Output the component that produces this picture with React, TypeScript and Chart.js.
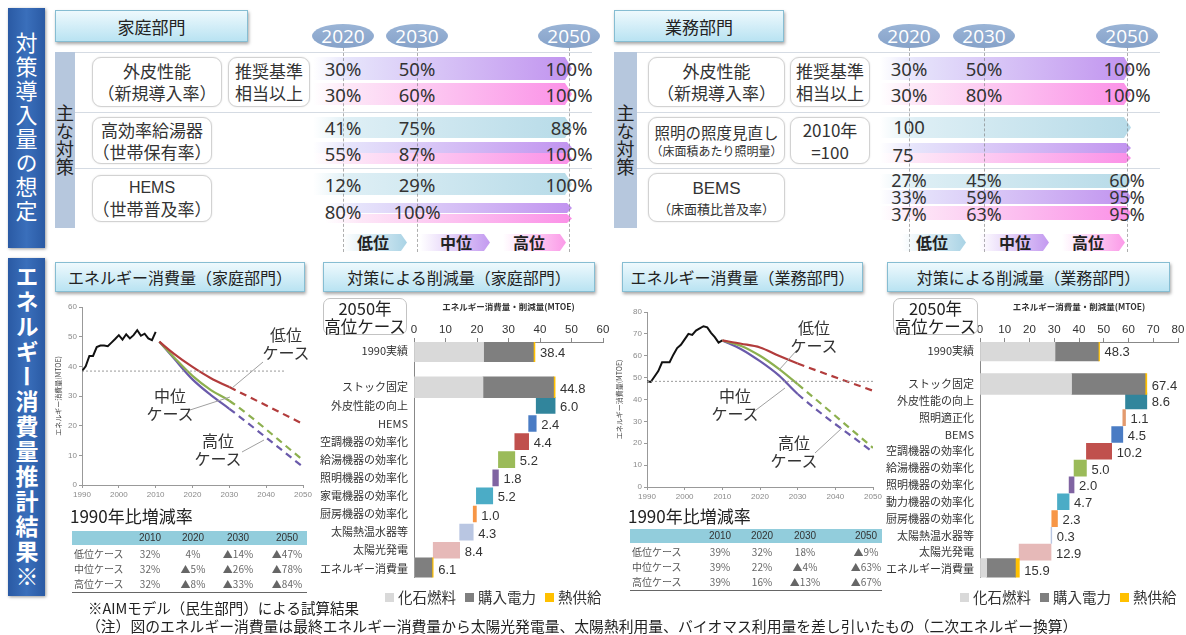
import React, { useEffect, useRef } from 'react';
import { Chart, registerables } from 'chart.js';
Chart.register(...registerables);

const JP = '"Noto Sans CJK JP", "Noto Sans", sans-serif';
const LAT = '"Liberation Sans", Arial, sans-serif';

// ---------------- data: line charts ----------------
const HIST_YEARS = [1990, 1991, 1992, 1993, 1994, 1995, 1996, 1997, 1998, 1999, 2000, 2001, 2002, 2003, 2004, 2005, 2006, 2007, 2008, 2009, 2010];
const HH_HIST = [38.4, 40.0, 43.5, 43.5, 46.5, 47.0, 47.0, 46.8, 48.0, 49.2, 50.5, 49.0, 50.8, 49.4, 50.5, 52.2, 50.3, 51.0, 49.4, 48.8, 51.6];
const HH_PROJ_YEARS = [2011, 2015, 2020, 2025, 2030, 2050];
const HH_LOW = [48.3, 44.2, 39.8, 36.0, 33.0, 20.6];
const HH_MID = [48.3, 43.0, 36.8, 32.0, 28.4, 8.4];
const HH_HIGH = [48.3, 42.6, 35.6, 30.3, 25.7, 6.1];
const HH_BASE = 38.4;

const CM_HIST = [48.3, 48.0, 50.5, 53.0, 57.0, 57.0, 57.0, 60.5, 63.5, 65.0, 67.5, 70.0, 69.5, 71.5, 72.5, 73.5, 73.0, 70.5, 68.5, 66.0, 67.0];
const CM_PROJ_YEARS = [2010, 2015, 2020, 2025, 2030, 2050];
const CM_LOW = [67.0, 65.5, 63.8, 60.0, 56.5, 44.0];
const CM_MID = [67.0, 64.5, 60.0, 54.0, 47.0, 17.9];
const CM_HIGH = [67.0, 63.0, 57.5, 51.0, 42.5, 15.9];
const CM_BASE = 48.3;

// ---------------- data: waterfall charts ----------------
const HH_STACK_CATS = ['1990実績', 'ストック固定', 'エネルギー消費量'];
const HH_FOSSIL = [22.1, 21.9, 0];
const HH_ELEC = [15.8, 22.4, 5.7];
const HH_HEAT = [0.5, 0.5, 0.4];
const HH_CUT_CATS = ['外皮性能の向上', 'HEMS', '空調機器の効率化', '給湯機器の効率化', '照明機器の効率化', '家電機器の効率化', '厨房機器の効率化', '太陽熱温水器等', '太陽光発電'];
const HH_CUTS = [6.0, 2.4, 4.4, 5.2, 1.8, 5.2, 1.0, 4.3, 8.4];

const CM_STACK_CATS = ['1990実績', 'ストック固定', 'エネルギー消費量'];
const CM_FOSSIL = [30.3, 37.0, 2.7];
const CM_ELEC = [17.5, 29.7, 11.6];
const CM_HEAT = [0.5, 0.7, 1.6];
const CM_CUT_CATS = ['外皮性能の向上', '照明適正化', 'BEMS', '空調機器の効率化', '給湯機器の効率化', '照明機器の効率化', '動力機器の効率化', '厨房機器の効率化', '太陽熱温水器等', '太陽光発電'];
const CM_CUTS = [8.6, 1.1, 4.5, 10.2, 5.0, 2.0, 4.7, 2.3, 0.3, 12.9];

// ---------------- data: top tables ----------------
const TOP_YEARS = ['2020', '2030', '2050'];
const HH_SHELL_MID = ['30%', '50%', '100%'];
const HH_SHELL_HIGH = ['30%', '60%', '100%'];
const HH_WATER_LOW = ['41%', '75%', '88%'];
const HH_WATER_MH = ['55%', '87%', '100%'];
const HH_HEMS_LOW = ['12%', '29%', '100%'];
const HH_HEMS_MH = ['80%', '100%'];
const CM_SHELL_MID = ['30%', '50%', '100%'];
const CM_SHELL_HIGH = ['30%', '80%', '100%'];
const CM_LIGHT_LOW = ['100'];
const CM_LIGHT_MH = ['75'];
const CM_BEMS_LOW = ['27%', '45%', '60%'];
const CM_BEMS_MID = ['33%', '59%', '95%'];
const CM_BEMS_HIGH = ['37%', '63%', '95%'];

// ---------------- data: rate tables ----------------
const RATE_COLS = ['2010', '2020', '2030', '2050'];
const RATE_ROWS = ['低位ケース', '中位ケース', '高位ケース'];
const HH_RATES = [['32%', '4%', '▲14%', '▲47%'], ['32%', '▲5%', '▲26%', '▲78%'], ['32%', '▲8%', '▲33%', '▲84%']];
const CM_RATES = [['39%', '32%', '18%', '▲9%'], ['39%', '22%', '▲4%', '▲63%'], ['39%', '16%', '▲13%', '▲67%']];

// ---------------- styles ----------------
const CUT_COLORS_HH = ['#31859c', '#4a7cc4', '#c0504d', '#9bbb59', '#8064a2', '#4bacc6', '#f79646', '#b9c6e2', '#e6b9b8'];
const CUT_COLORS_CM = ['#31859c', '#e39a6e', '#4a7cc4', '#c0504d', '#9bbb59', '#8064a2', '#4bacc6', '#f79646', '#b9c6e2', '#e6b9b8'];
const C_LOW = '#b23c3c';
const C_MID = '#8db04f';
const C_HIGH = '#6a5aab';

type Geo = { yW: number; xH: number; padTop: number; padRight: number; padBottom?: number };

function lineConfig(hist: number[], projYears: number[], low: number[], mid: number[], high: number[], base: number, refEnd: number, yMax: number, g: Geo): any {
  const pts = (xs: number[], ys: number[]) => xs.map((x, i) => ({ x, y: ys[i] }));
  const seg = { borderDash: (ctx: any) => (ctx.p0.parsed.x >= 2030 ? [7, 5] : undefined) };
  const proj = (data: number[], color: string) => ({
    data: pts(projYears, data), borderColor: color, borderWidth: 2.2, pointRadius: 0,
    cubicInterpolationMode: 'monotone', segment: seg,
  });
  return {
    type: 'line',
    data: {
      datasets: [
        { data: pts([1990, refEnd], [base, base]), borderColor: '#9a9a9a', borderWidth: 1, borderDash: [2, 2], pointRadius: 0 },
        proj(low, C_LOW),
        proj(mid, C_MID),
        proj(high, C_HIGH),
        { data: pts(HIST_YEARS, hist), borderColor: '#111', borderWidth: 2, pointRadius: 0 },
      ],
    },
    options: {
      animation: false, responsive: false,
      layout: { padding: { top: g.padTop, right: g.padRight, left: 0, bottom: 0 } },
      plugins: { legend: { display: false }, tooltip: { enabled: false } },
      scales: {
        x: {
          type: 'linear', min: 1990, max: 2050,
          ticks: { stepSize: 10, font: { size: 8, family: LAT }, color: '#8a8a8a', maxRotation: 0, padding: 2, callback: (v: any) => String(v) },
          grid: { drawOnChartArea: false, tickLength: 3, color: '#999' },
          border: { color: '#999' },
          afterFit: (s: any) => { s.height = g.xH; },
        },
        y: {
          min: 0, max: yMax,
          ticks: { stepSize: 10, font: { size: 8, family: LAT }, color: '#8a8a8a', padding: 2 },
          grid: { drawOnChartArea: false, tickLength: 3, color: '#999' },
          border: { color: '#999' },
          title: { display: true, text: 'エネルギー消費量(MTOE)', font: { size: 7, family: JP }, color: '#444', padding: 0 },
          afterFit: (s: any) => { s.width = g.yW; },
        },
      },
    },
  };
}

const valueLabelPlugin = {
  id: 'valueLabels',
  afterDatasetsDraw(chart: any) {
    const texts: string[] = chart.options.plugins.valueLabels.texts;
    const ctx = chart.ctx;
    ctx.save();
    ctx.font = `13px ${LAT}`;
    ctx.fillStyle = '#333';
    ctx.textBaseline = 'middle';
    ctx.textAlign = 'left';
    texts.forEach((t, i) => {
      if (!t) return;
      let right = -1; let yc = 0;
      chart.data.datasets.forEach((ds: any, di: number) => {
        if (ds.data[i] == null) return;
        const el = chart.getDatasetMeta(di).data[i];
        const r = Math.max(el.x, el.base);
        if (r > right) { right = r; yc = el.y; }
      });
      if (right >= 0) ctx.fillText(t, right + 5, yc + 2);
    });
    ctx.restore();
  },
};

function waterfallConfig(stackCats: string[], fossil: number[], elec: number[], heat: number[], cutCats: string[], cuts: number[], cutColors: string[], xMax: number, g: Geo): any {
  const cats = [stackCats[0], '', stackCats[1], ...cutCats, stackCats[2]];
  const N = cats.length;
  const stackIdx = [0, 2, N - 1];
  const fD: any[] = new Array(N).fill(null);
  const eD: any[] = new Array(N).fill(null);
  const hD: any[] = new Array(N).fill(null);
  const cD: any[] = new Array(N).fill(null);
  const colors: string[] = new Array(N).fill('#000');
  const texts: string[] = new Array(N).fill('');
  stackIdx.forEach((idx, j) => {
    const f = fossil[j], e = elec[j], h = heat[j];
    fD[idx] = [0, f];
    eD[idx] = [f, f + e];
    hD[idx] = [f + e, f + e + h];
    texts[idx] = (f + e + h).toFixed(1);
  });
  let run = fossil[1] + elec[1] + heat[1];
  cuts.forEach((c, k) => {
    cD[3 + k] = [run - c, run];
    colors[3 + k] = cutColors[k];
    texts[3 + k] = c.toFixed(1);
    run -= c;
  });
  const common = { grouped: false, borderWidth: 0 };
  return {
    type: 'bar',
    data: {
      labels: cats,
      datasets: [
        { ...common, label: '化石燃料', data: fD, backgroundColor: '#d9d9d9', barThickness: 21 },
        { ...common, label: '購入電力', data: eD, backgroundColor: '#7f7f7f', barThickness: 21 },
        { ...common, label: '熱供給', data: hD, backgroundColor: '#ffc000', barThickness: 21 },
        { ...common, label: 'cut', data: cD, backgroundColor: colors, barThickness: 16 },
      ],
    },
    options: {
      indexAxis: 'y', animation: false, responsive: false,
      layout: { padding: { top: 0, right: g.padRight, left: 0, bottom: g.padBottom || 0 } },
      plugins: { legend: { display: false }, tooltip: { enabled: false }, valueLabels: { texts } },
      scales: {
        x: {
          position: 'top', min: 0, max: xMax,
          ticks: { stepSize: 10, font: { size: 11.5, family: LAT }, color: '#333', padding: 1 },
          grid: { drawOnChartArea: false, tickLength: 4, color: '#888' },
          border: { color: '#888' },
          title: { display: true, text: 'エネルギー消費量・削減量(MTOE)', font: { size: 8.5, family: JP, weight: 'bold' }, color: '#333', padding: { top: 2, bottom: 3 } },
          afterFit: (s: any) => { s.height = g.xH; },
        },
        y: {
          grid: { display: false, drawTicks: false },
          border: { display: true, color: '#888' },
          ticks: { font: { size: 11, family: JP }, color: '#333', padding: 6, autoSkip: false },
          afterFit: (s: any) => { s.width = g.yW; },
        },
      },
    },
    plugins: [valueLabelPlugin],
  };
}

function ChartCanvas({ x, y, w, h, make }: { x: number; y: number; w: number; h: number; make: () => any }) {
  const ref = useRef<HTMLCanvasElement>(null);
  useEffect(() => {
    const chart = new Chart(ref.current as HTMLCanvasElement, make());
    return () => chart.destroy();
  }, []);
  return <canvas ref={ref} width={w} height={h} style={{ position: 'absolute', left: x, top: y, width: w, height: h }} />;
}

// ---------------- HTML helpers ----------------
const abs = (x: number, y: number, w?: number, h?: number): React.CSSProperties => ({ position: 'absolute', left: x, top: y, width: w, height: h });

function HeadBox({ x, y, w, h, text, size = 17 }: any) {
  return (
    <div style={{ ...abs(x, y, w, h), background: 'linear-gradient(#eef9fd, #b9e3f2)', border: '1px solid #86bdd2', boxShadow: '1px 2px 3px rgba(0,0,0,0.35)', display: 'flex', alignItems: 'center', justifyContent: 'center', fontSize: size, color: '#222', boxSizing: 'border-box' }}>{text}</div>
  );
}

function Oval({ cx, text }: any) {
  return <div style={{ ...abs(cx - 31, 24, 62, 24), background: 'linear-gradient(#9ab4d6, #86a2c9)', borderRadius: '50%', color: '#fff', fontSize: 19, fontFamily: '"Open Sans", sans-serif', display: 'flex', alignItems: 'center', justifyContent: 'center', lineHeight: '24px' }}>{text}</div>;
}

function RBox({ x, y, w, h, lines, sizes }: any) {
  return (
    <div style={{ ...abs(x, y, w, h), background: '#fff', border: '1px solid #d2d2d2', borderRadius: 9, boxShadow: '0 0 2px rgba(0,0,0,0.12)', display: 'flex', flexDirection: 'column', alignItems: 'center', justifyContent: 'center', color: '#333', boxSizing: 'border-box' }}>
      {lines.map((l: string, i: number) => <div key={i} style={{ fontSize: sizes[i], lineHeight: `${sizes[i] + 5}px`, whiteSpace: 'nowrap', fontFamily: /^[A-Z]+$/.test(l) ? LAT : JP }}>{l}</div>)}
    </div>
  );
}

const G_LOW = 'linear-gradient(to right, rgba(222,239,245,0) 0%, #deeff5 14%, #b7dbe8 100%)';
const G_MID = 'linear-gradient(to right, rgba(232,230,252,0) 0%, #e6e4fb 14%, #c193ef 100%)';
const G_HIGH = 'linear-gradient(to right, rgba(255,232,250,0) 0%, #fde7f7 14%, #fb90e7 100%)';

function Arrow({ x, y, w, h, g, tip = 7 }: any) {
  return <div style={{ ...abs(x, y, w, h), background: g, clipPath: `polygon(0 0, ${w - tip}px 0, ${w}px 50%, ${w - tip}px 100%, 0 100%)` }} />;
}

function Vals({ xs, cy, vals, size = 18.5 }: any) {
  return <>{vals.map((v: string, i: number) => <div key={i} style={{ ...abs(xs[i] - 40, cy - 12, 80, 24), textAlign: 'center', fontSize: size, lineHeight: '24px', color: '#333', fontFamily: '"Noto Sans", sans-serif' }}>{v}</div>)}</>;
}

function VLabel({ x, y, w, h, text, size, bold }: any) {
  return <div style={{ ...abs(x, y, w, h), background: 'linear-gradient(to right, #2a5aa4, #3a6fbb 50%, #2a5aa4)', boxShadow: '1px 1px 3px rgba(0,0,0,0.4)', color: '#fff', display: 'flex', alignItems: 'center', justifyContent: 'center' }}>
    <div style={{ writingMode: 'vertical-rl', fontSize: size, fontWeight: bold ? 'bold' : 'normal', letterSpacing: 2, lineHeight: 1 }}>{text}</div>
  </div>;
}

function Strip({ x, w }: any) {
  return <div style={{ ...abs(x, 52, w, 176), background: '#b6c7dd', display: 'flex', alignItems: 'center', justifyContent: 'center' }}>
    <div style={{ writingMode: 'vertical-rl', fontSize: 18, color: '#222', lineHeight: 1 }}>主な対策</div>
  </div>;
}

function Legend3({ x0, y0 }: any) {
  const items = [
    { x: x0, w: 64, g: 'linear-gradient(to right, rgba(255,255,255,0), #a9d3e5)', t: '低位', tx: 14 },
    { x: x0 + 77, w: 70, g: 'linear-gradient(to right, rgba(255,255,255,0), #c39af0)', t: '中位', tx: 20 },
    { x: x0 + 160, w: 63, g: 'linear-gradient(to right, rgba(255,255,255,0), #fb9ae8)', t: '高位', tx: 10 },
  ];
  return <>{items.map((it, i) => <React.Fragment key={i}>
    <Arrow x={it.x} y={y0} w={it.w} h={17} g={it.g} tip={6} />
    <div style={{ ...abs(it.x + it.tx, y0 - 3), fontSize: 16, fontWeight: 'bold', color: '#222', lineHeight: '22px' }}>{it.t}</div>
  </React.Fragment>)}</>;
}

function DashLines({ xs }: any) {
  return <>{xs.map((x: number, i: number) => <div key={i} style={{ ...abs(x, 48, 0, 204), borderLeft: '1px dashed rgba(120,120,120,0.6)' }} />)}</>;
}

function HLines({ x, w }: any) {
  return <>{[52, 112, 168].map((y, i) => <div key={i} style={{ ...abs(x, y, w, 0), borderTop: '1px solid #d5dbe3' }} />)}</>;
}

function RateTable({ x, y, w, cols, hy, rates }: any) {
  return <>
    <div style={{ ...abs(x, y), fontSize: 17, color: '#222', lineHeight: '20px' }}>1990年比増減率</div>
    <div style={{ ...abs(x + 2, hy, w, 14), background: '#92cddc' }} />
    {RATE_COLS.map((c, i) => <div key={c} style={{ ...abs(cols[i] - 25, hy, 50, 14), textAlign: 'center', fontSize: 10, lineHeight: '14px', color: '#333', fontFamily: LAT }}>{c}</div>)}
    {RATE_ROWS.map((r, ri) => <React.Fragment key={r}>
      <div style={{ ...abs(x + 4, hy + 16 + ri * 15, 70, 14), fontSize: 10, lineHeight: '14px', color: '#555' }}>{r}</div>
      {rates[ri].map((v: string, ci: number) => <div key={ci} style={{ ...abs(cols[ci] - 25, hy + 16 + ri * 15, 50, 14), textAlign: 'center', fontSize: 10, lineHeight: '14px', color: '#666' }}>{v}</div>)}
    </React.Fragment>)}
    <div style={{ ...abs(x + 2, hy + 61, w, 0), borderTop: '1.5px solid #666' }} />
  </>;
}

function WLegend({ x, y }: any) {
  const items = [['化石燃料', '#d9d9d9'], ['購入電力', '#7f7f7f'], ['熱供給', '#ffc000']];
  return <div style={{ ...abs(x, y), display: 'flex', gap: 9, fontSize: 14.5, color: '#333', lineHeight: '18px', whiteSpace: 'nowrap' }}>
    {items.map(([t, c]) => <div key={t} style={{ display: 'flex', alignItems: 'center' }}><span style={{ display: 'inline-block', width: 9, height: 9, background: c, marginRight: 4 }} />{t}</div>)}
  </div>;
}

function CaseLabel({ x, y, w, t }: any) {
  return <div style={{ ...abs(x, y, w), textAlign: 'center', fontSize: 16, lineHeight: '18px', color: '#333' }}><div>{t}</div><div>ケース</div></div>;
}

export default function App() {
  const LX = [343, 417, 569];
  const RX = [909, 984, 1127];
  return (
    <div style={{ position: 'fixed', left: 0, top: 0, width: 1186, height: 635, background: '#fff', fontFamily: JP, overflow: 'hidden' }}>
      <VLabel x={8} y={8} w={37} h={240} text="対策導入量の想定" size={22} />
      <VLabel x={8} y={258} w={37} h={338} text="エネルギー消費量推計結果※" size={23} bold />

      {/* ---------- top left ---------- */}
      <HeadBox x={55} y={10} w={193} h={32} text="家庭部門" />
      {TOP_YEARS.map((t, i) => <Oval key={'l' + t} cx={LX[i]} text={t} />)}
      <HLines x={75} w={517} />
      <Strip x={55} w={20} />
      <RBox x={92} y={57} w={130} h={50} lines={['外皮性能', '（新規導入率）']} sizes={[17, 17]} />
      <RBox x={228} y={57} w={82} h={50} lines={['推奨基準', '相当以上']} sizes={[17, 17]} />
      <RBox x={92} y={117} w={120} h={47} lines={['高効率給湯器', '（世帯保有率）']} sizes={[17, 17]} />
      <RBox x={92} y={175} w={120} h={47} lines={['HEMS', '（世帯普及率）']} sizes={[16, 17]} />
      <Arrow x={313} y={57} w={259} h={23} g={G_MID} />
      <Arrow x={313} y={83} w={259} h={22} g={G_HIGH} />
      <Arrow x={313} y={117} w={259} h={21} g={G_LOW} />
      <Arrow x={313} y={142} w={259} h={11} g={G_MID} tip={5} />
      <Arrow x={313} y={153} w={259} h={11} g={G_HIGH} tip={5} />
      <Arrow x={313} y={173} w={259} h={22} g={G_LOW} />
      <Arrow x={325} y={203} w={247} h={10} g={G_MID} tip={5} />
      <Arrow x={325} y={214} w={247} h={9} g={G_HIGH} tip={5} />
      <DashLines xs={LX} />
      <Vals xs={LX} cy={69} vals={HH_SHELL_MID} />
      <Vals xs={LX} cy={95} vals={HH_SHELL_HIGH} />
      <Vals xs={LX} cy={128} vals={HH_WATER_LOW} />
      <Vals xs={LX} cy={154} vals={HH_WATER_MH} />
      <Vals xs={LX} cy={185} vals={HH_HEMS_LOW} />
      <Vals xs={LX} cy={212} vals={HH_HEMS_MH} />
      <Legend3 x0={343} y0={234} />

      {/* ---------- top right ---------- */}
      <HeadBox x={614} y={10} w={170} h={32} text="業務部門" />
      {TOP_YEARS.map((t, i) => <Oval key={'r' + t} cx={RX[i]} text={t} />)}
      <HLines x={637} w={523} />
      <Strip x={614} w={23} />
      <RBox x={648} y={57} w={137} h={50} lines={['外皮性能', '（新規導入率）']} sizes={[17, 17]} />
      <RBox x={790} y={57} w={80} h={50} lines={['推奨基準', '相当以上']} sizes={[17, 17]} />
      <RBox x={648} y={117} w={137} h={47} lines={['照明の照度見直し', '（床面積あたり照明量）']} sizes={[15.5, 12]} />
      <RBox x={790} y={117} w={80} h={47} lines={['2010年', '=100']} sizes={[17, 17]} />
      <RBox x={648} y={173} w={137} h={49} lines={['BEMS', '（床面積比普及率）']} sizes={[17, 13]} />
      <Arrow x={880} y={57} w={251} h={23} g={G_MID} />
      <Arrow x={880} y={83} w={251} h={22} g={G_HIGH} />
      <Arrow x={880} y={117} w={251} h={21} g={G_LOW} />
      <Arrow x={880} y={143} w={251} h={10} g={G_MID} tip={5} />
      <Arrow x={880} y={153} w={251} h={10} g={G_HIGH} tip={5} />
      <Arrow x={880} y={174} w={251} h={14} g={G_LOW} tip={5} />
      <Arrow x={880} y={190} w={251} h={14} g={G_MID} tip={5} />
      <Arrow x={880} y={206} w={251} h={14} g={G_HIGH} tip={5} />
      <DashLines xs={RX} />
      <Vals xs={RX} cy={69} vals={CM_SHELL_MID} />
      <Vals xs={RX} cy={95} vals={CM_SHELL_HIGH} />
      <Vals xs={RX} cy={127} vals={CM_LIGHT_LOW} />
      <Vals xs={[903]} cy={155} vals={CM_LIGHT_MH} />
      <Vals xs={RX} cy={180} vals={CM_BEMS_LOW} size={18} />
      <Vals xs={RX} cy={197} vals={CM_BEMS_MID} size={18} />
      <Vals xs={RX} cy={214} vals={CM_BEMS_HIGH} size={18} />
      <Legend3 x0={902} y0={234} />

      {/* ---------- bottom titles ---------- */}
      <HeadBox x={55} y={262} w={250} h={30} text="エネルギー消費量（家庭部門）" size={16} />
      <HeadBox x={323} y={262} w={272} h={30} text="対策による削減量（家庭部門）" size={16} />
      <HeadBox x={622} y={262} w={241} h={30} text="エネルギー消費量（業務部門）" size={16} />
      <HeadBox x={887} y={262} w={283} h={30} text="対策による削減量（業務部門）" size={16} />

      {/* ---------- charts ---------- */}
      <ChartCanvas x={54} y={298} w={265} h={212} make={() => lineConfig(HH_HIST, HH_PROJ_YEARS, HH_LOW, HH_MID, HH_HIGH, HH_BASE, 2045, 60, { yW: 28, xH: 25, padTop: 9, padRight: 16 })} />
      <ChartCanvas x={615} y={298} w={270} h={212} make={() => lineConfig(CM_HIST, CM_PROJ_YEARS, CM_LOW, CM_MID, CM_HIGH, CM_BASE, 2050, 80, { yW: 32, xH: 23, padTop: 14, padRight: 12 })} />
      <ChartCanvas x={310} y={300} w={305} h={290} make={() => waterfallConfig(HH_STACK_CATS, HH_FOSSIL, HH_ELEC, HH_HEAT, HH_CUT_CATS, HH_CUTS, CUT_COLORS_HH, 60, { yW: 104, xH: 42, padTop: 0, padRight: 12, padBottom: 6 })} />
      <ChartCanvas x={880} y={300} w={306} h={290} make={() => waterfallConfig(CM_STACK_CATS, CM_FOSSIL, CM_ELEC, CM_HEAT, CM_CUT_CATS, CM_CUTS, CUT_COLORS_CM, 80, { yW: 100, xH: 42, padTop: 0, padRight: 8, padBottom: 6 })} />

      {/* ---------- 2050 boxes ---------- */}
      {[[323, 298, 84], [893, 298, 85]].map(([x, y, w], i) => <div key={i} style={{ ...abs(x, y, w, 37), background: '#fff', border: '1px solid #c3c3c3', borderRadius: 7, display: 'flex', flexDirection: 'column', alignItems: 'center', justifyContent: 'center', fontSize: 16.5, lineHeight: '18px', color: '#222', boxSizing: 'border-box' }}><div>2050年</div><div>高位ケース</div></div>)}

      {/* ---------- line chart annotations ---------- */}
      <svg style={{ position: 'absolute', left: 0, top: 0 }} width={1186} height={635}>
        <g stroke="#a0a0a0" strokeWidth={1}>
          <line x1={263} y1={362} x2={232} y2={388} />
          <line x1={190} y1={410} x2={230} y2={397} />
          <line x1={242} y1={452} x2={264} y2={440} />
          <line x1={797} y1={350} x2={779} y2={370} />
          <line x1={752} y1={413} x2={785} y2={388} />
          <line x1={815} y1={453} x2={842} y2={428} />
        </g>
      </svg>
      <CaseLabel x={262} y={325} w={48} t="低位" />
      <CaseLabel x={146} y={386} w={48} t="中位" />
      <CaseLabel x={194} y={431} w={48} t="高位" />
      <CaseLabel x={790} y={318} w={48} t="低位" />
      <CaseLabel x={711} y={386} w={48} t="中位" />
      <CaseLabel x={770} y={433} w={48} t="高位" />

      {/* ---------- rate tables ---------- */}
      <RateTable x={70} y={506} w={235} cols={[150, 193, 238, 287]} hy={531} rates={HH_RATES} />
      <RateTable x={628} y={506} w={252} cols={[720, 762, 805, 866]} hy={529} rates={CM_RATES} />

      <WLegend x={385} y={588} />
      <WLegend x={960} y={588} />

      {/* ---------- footnotes ---------- */}
      <div style={{ ...abs(88, 599), fontSize: 14.5, lineHeight: '18px', color: '#222', whiteSpace: 'nowrap' }}>※AIMモデル（民生部門）による試算結果</div>
      <div style={{ ...abs(86, 617), fontSize: 14.8, lineHeight: '18px', color: '#222', whiteSpace: 'nowrap' }}>（注）図のエネルギー消費量は最終エネルギー消費量から太陽光発電量、太陽熱利用量、バイオマス利用量を差し引いたもの（二次エネルギー換算）</div>
    </div>
  );
}
